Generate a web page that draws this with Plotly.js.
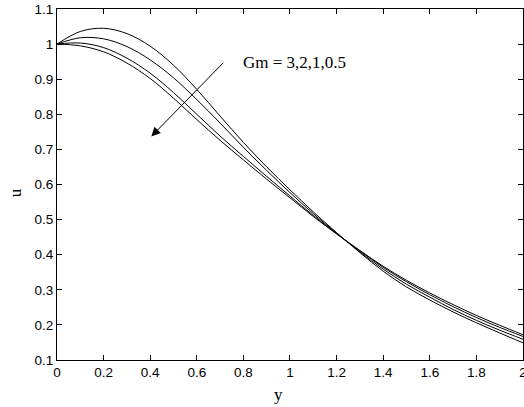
<!DOCTYPE html>
<html>
<head>
<meta charset="utf-8">
<script src="https://cdn.plot.ly/plotly-3.0.1.min.js"></script>
<style>
  html, body { margin: 0; padding: 0; background: #fff; }
  #chart { width: 524px; height: 407px; }
</style>
</head>
<body>
<div id="chart"></div>
<script>
// y positions (x axis of the chart)
const yPos = [0, 0.1, 0.2, 0.3, 0.4, 0.5, 0.6, 0.7, 0.8, 0.9, 1.0,
              1.1, 1.2, 1.3, 1.4, 1.5, 1.6, 1.7, 1.8, 1.9, 2.0];

// velocity u for each Gm value
const uGm3  = [1.000, 1.036, 1.045, 1.030, 0.994, 0.940, 0.871, 0.795, 0.720, 0.650, 0.585,
               0.522, 0.463, 0.406, 0.353, 0.308, 0.271, 0.237, 0.206, 0.177, 0.149];
const uGm2  = [1.000, 1.018, 1.015, 0.993, 0.955, 0.904, 0.842, 0.775, 0.706, 0.640, 0.577,
               0.517, 0.461, 0.408, 0.359, 0.316, 0.279, 0.244, 0.213, 0.185, 0.159];
const uGm1  = [1.000, 1.003, 0.990, 0.960, 0.917, 0.862, 0.800, 0.738, 0.680, 0.623, 0.567,
               0.512, 0.460, 0.411, 0.364, 0.323, 0.286, 0.252, 0.221, 0.193, 0.167];
const uGm05 = [1.000, 0.995, 0.978, 0.946, 0.902, 0.846, 0.785, 0.726, 0.670, 0.615, 0.562,
               0.509, 0.459, 0.412, 0.367, 0.327, 0.291, 0.258, 0.227, 0.199, 0.172];

const seriesNames = ['Gm = 3', 'Gm = 2', 'Gm = 1', 'Gm = 0.5'];
const seriesVals = [uGm3, uGm2, uGm1, uGm05];

const xTickVals = [0, 0.2, 0.4, 0.6, 0.8, 1, 1.2, 1.4, 1.6, 1.8, 2];
const xTickText = ['0', '0.2', '0.4', '0.6', '0.8', '1', '1.2', '1.4', '1.6', '1.8', '2'];
const yTickVals = [0.1, 0.2, 0.3, 0.4, 0.5, 0.6, 0.7, 0.8, 0.9, 1, 1.1];

const labelText = 'Gm = 3,2,1,0.5';
const xTitle = 'y';
const yTitle = 'u';

const traces = seriesVals.map((v, i) => ({
  x: yPos,
  y: v,
  name: seriesNames[i],
  type: 'scatter',
  mode: 'lines',
  line: { color: '#000', width: 1, shape: 'spline', smoothing: 1 },
  hoverinfo: 'skip'
}));

const tickFont = { family: 'Liberation Sans, Arial, sans-serif', size: 13.5, color: '#000' };
const serif = { family: 'Liberation Serif, Times New Roman, serif', size: 17, color: '#000' };

const axisCommon = {
  showgrid: false,
  zeroline: false,
  showline: true,
  linecolor: '#000',
  linewidth: 1,
  mirror: 'ticks',
  ticks: 'inside',
  ticklen: 5,
  tickwidth: 1,
  tickcolor: '#000',
  tickfont: tickFont,
  ticklabeloverflow: 'allow',
  fixedrange: true
};

const layout = {
  width: 524,
  height: 407,
  margin: { l: 57, r: 1, t: 9, b: 47 },
  paper_bgcolor: '#fff',
  plot_bgcolor: '#fff',
  showlegend: false,
  xaxis: Object.assign({}, axisCommon, {
    range: [0, 2.0001],
    tickmode: 'array',
    tickvals: xTickVals,
    ticktext: xTickText
  }),
  yaxis: Object.assign({}, axisCommon, {
    range: [0.1, 1.1],
    tickmode: 'array',
    tickvals: yTickVals
  }),
  annotations: [
    {
      x: 0.405, y: 0.737, xref: 'x', yref: 'y',
      ax: 0.72, ay: 0.951, axref: 'x', ayref: 'y',
      text: '', showarrow: true,
      arrowhead: 2, arrowsize: 1.8, arrowwidth: 1, arrowcolor: '#000'
    },
    {
      x: 0.79, y: 0.949, xref: 'x', yref: 'y',
      xanchor: 'left', yanchor: 'middle',
      text: labelText, showarrow: false, font: serif
    },
    {
      x: 0.475, y: -0.066, xref: 'paper', yref: 'paper',
      xanchor: 'center', yanchor: 'top',
      text: xTitle, showarrow: false, font: serif
    },
    {
      x: -0.09, y: 0.475, xref: 'paper', yref: 'paper',
      xanchor: 'center', yanchor: 'middle',
      text: yTitle, textangle: -90, showarrow: false, font: serif
    }
  ]
};

Plotly.newPlot('chart', traces, layout, { staticPlot: true, displayModeBar: false });
</script>
</body>
</html>
